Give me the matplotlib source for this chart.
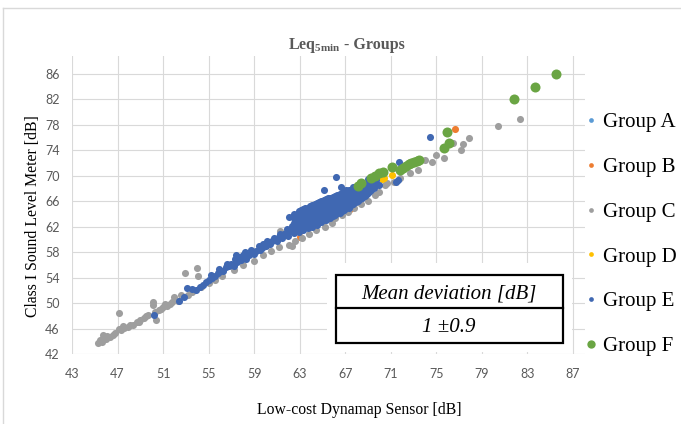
import matplotlib
matplotlib.use('Agg')
import matplotlib.pyplot as plt
from matplotlib.lines import Line2D
from matplotlib.patches import Rectangle

plt.rcParams['mathtext.fontset'] = 'custom'
plt.rcParams['mathtext.rm'] = 'Liberation Serif:bold'
plt.rcParams['mathtext.it'] = 'Liberation Serif:bold'
plt.rcParams['mathtext.bf'] = 'Liberation Serif:bold'

# ---------------- data (x = Low-cost sensor, y = Class I SLM) ----------------
group_a = [(63.2, 63.3), (63.6, 62.9), (64.2, 63.5), (62.8, 62.2)]

group_b = [(76.65, 77.3), (67.4, 64.8), (63.0, 60.4), (65.5, 63.6)]

group_c = [
    (45.3, 43.7), (45.5, 44.2), (45.6, 43.9), (45.75, 45.0), (46.0, 44.3),
    (46.1, 44.9), (46.3, 44.7), (46.6, 45.0), (46.8, 45.3), (47.1, 46.0),
    (47.1, 48.4), (47.3, 45.8), (47.5, 46.4), (47.6, 46.1), (47.9, 46.2),
    (48.1, 46.5), (48.4, 46.6), (48.7, 47.1), (48.9, 47.0), (49.0, 47.3),
    (49.3, 47.6), (49.5, 47.9), (49.7, 48.1), (50.1, 50.2), (50.1, 49.7),
    (50.3, 48.6), (50.4, 47.3), (50.6, 48.9), (50.8, 49.0), (51.0, 49.4),
    (51.2, 49.9), (51.3, 49.6), (51.6, 49.9), (51.8, 50.1), (52.0, 51.0),
    (52.3, 50.3), (52.6, 51.2), (52.9, 54.8), (53.2, 51.3), (53.5, 51.7),
    (53.95, 55.5), (54.1, 54.2), (54.3, 52.5), (55.0, 53.2), (55.6, 53.6),
    (56.2, 54.3), (57.2, 55.2), (58.0, 56.0), (59.0, 56.6), (59.8, 57.5),
    (60.5, 58.2), (61.2, 58.8), (61.3, 61.3), (62.1, 59.1), (62.3, 58.9),
    (62.6, 59.8), (63.2, 60.3), (63.8, 60.9), (64.4, 61.5), (64.8, 62.8),
    (65.2, 61.9), (65.8, 62.6), (66.1, 63.3), (66.7, 63.9), (67.2, 64.3),
    (67.8, 65.0), (68.4, 65.6), (69.0, 66.1), (69.6, 67.0), (70.0, 67.4),
    (70.5, 68.6), (70.7, 68.9), (71.3, 69.0), (71.8, 69.6), (72.7, 70.5),
    (73.4, 70.9), (74.0, 72.5), (74.6, 72.2), (75.0, 73.3), (75.7, 72.8),
    (76.5, 75.2), (77.15, 74.1), (77.3, 74.95), (77.9, 75.9), (80.4, 77.8),
    (82.3, 79.0),
]

group_d = [(71.07, 70.1), (70.2, 69.5), (70.4, 69.6)]

group_e = [
    # lower tail
    (50.2, 48.2), (52.4, 50.4), (52.8, 51.0), (53.1, 52.3), (53.5, 52.2),
    (53.9, 52.0), (54.2, 52.5), (54.5, 52.9), (54.8, 53.3), (55.0, 53.7),
    (55.2, 54.4), (55.3, 53.9), (55.6, 54.3), (55.8, 54.7), (55.9, 55.3),
    (56.0, 55.0), (56.3, 55.1), (56.5, 55.6), (56.6, 56.1), (56.8, 55.9),
    (57.0, 56.2), (57.2, 55.9), (57.3, 56.9), (57.4, 57.6), (57.5, 56.5),
    (57.7, 57.2), (57.8, 56.8), (58.0, 57.6), (58.1, 57.1), (58.2, 58.0),
    (58.3, 56.9), (58.5, 57.6), (58.7, 58.3), (58.8, 57.9), (59.0, 57.7),
    (59.2, 58.2), (59.4, 59.0), (59.5, 58.4), (59.8, 59.3), (59.7, 58.7),
    (60.0, 59.0), (60.1, 59.7), (60.2, 59.4), (60.4, 59.3), (60.6, 59.7),
    (60.7, 60.3), (60.8, 60.0), (61.0, 59.8), (61.2, 60.4), (61.3, 60.9),
    (61.4, 60.2), (61.6, 60.8), (61.8, 61.0), (61.9, 61.6), (62.0, 60.6),
    (62.2, 61.3), (62.3, 62.1), (62.1, 63.5),
    # main cloud
    (62.5, 61.0), (62.5, 61.8), (62.5, 62.6), (62.5, 63.4), (62.5, 64.0),
    (62.7, 61.4), (62.7, 62.2), (62.7, 63.0), (62.7, 63.8),
    (62.9, 61.2), (62.9, 62.0), (62.9, 62.8), (62.9, 63.6), (62.9, 64.5),
    (63.1, 61.6), (63.1, 62.4), (63.1, 63.2), (63.1, 64.0), (63.1, 64.6),
    (63.3, 61.5), (63.3, 62.3), (63.3, 63.1), (63.3, 63.9), (63.3, 64.8),
    (63.5, 61.9), (63.5, 62.7), (63.5, 63.5), (63.5, 64.3), (63.5, 65.0),
    (63.7, 61.8), (63.7, 62.6), (63.7, 63.4), (63.7, 64.2), (63.7, 65.0),
    (63.9, 62.1), (63.9, 62.9), (63.9, 63.8), (63.9, 64.6), (63.9, 65.3),
    (64.1, 62.0), (64.1, 62.9), (64.1, 63.7), (64.1, 64.5), (64.1, 65.4),
    (64.3, 62.4), (64.3, 63.2), (64.3, 64.1), (64.3, 64.9), (64.3, 65.6),
    (64.5, 62.3), (64.5, 63.2), (64.5, 64.0), (64.5, 64.8), (64.5, 65.7),
    (64.7, 62.7), (64.7, 63.5), (64.7, 64.4), (64.7, 65.2), (64.7, 65.9),
    (64.9, 62.7), (64.9, 63.5), (64.9, 64.3), (64.9, 65.1), (64.9, 66.0),
    (65.1, 63.0), (65.1, 63.8), (65.1, 64.7), (65.1, 65.5), (65.1, 66.2),
    (65.3, 63.0), (65.3, 63.8), (65.3, 64.6), (65.3, 65.4), (65.3, 66.3),
    (65.5, 63.4), (65.5, 64.2), (65.5, 65.0), (65.5, 65.8), (65.5, 66.5),
    (65.7, 63.4), (65.7, 64.2), (65.7, 65.0), (65.7, 65.8), (65.7, 66.5),
    (65.9, 63.7), (65.9, 64.5), (65.9, 65.3), (65.9, 66.1), (65.9, 66.7),
    (66.1, 63.8), (66.1, 64.6), (66.1, 65.4), (66.1, 66.2), (66.1, 66.8),
    (66.3, 64.1), (66.3, 64.9), (66.3, 65.7), (66.3, 66.4), (66.3, 67.0),
    (66.5, 64.1), (66.5, 65.0), (66.5, 65.8), (66.5, 66.5), (66.5, 67.1),
    (66.7, 64.5), (66.7, 65.3), (66.7, 66.1), (66.7, 66.8), (66.7, 67.3),
    (66.9, 64.6), (66.9, 65.4), (66.9, 66.2), (66.9, 66.9), (66.9, 67.5),
    (67.1, 65.0), (67.1, 65.8), (67.1, 66.5), (67.1, 67.2), (67.1, 67.7),
    (67.3, 65.0), (67.3, 65.8), (67.3, 66.6), (67.3, 67.3), (67.3, 67.8),
    (67.5, 65.4), (67.5, 66.2), (67.5, 66.9), (67.5, 67.6),
    (67.7, 65.5), (67.7, 66.3), (67.7, 67.0), (67.7, 67.7), (67.7, 68.2),
    (67.9, 65.9), (67.9, 66.6), (67.9, 67.3), (67.9, 67.9),
    (68.1, 66.0), (68.1, 66.8), (68.1, 67.5), (68.1, 68.1),
    (68.3, 66.4), (68.3, 67.1), (68.3, 67.8), (68.3, 68.3),
    (68.5, 66.5), (68.5, 67.3), (68.5, 68.0), (68.5, 68.6),
    (68.7, 66.9), (68.7, 67.6), (68.7, 68.3),
    (68.9, 67.1), (68.9, 67.8), (68.9, 68.5),
    (69.1, 67.5), (69.1, 68.2), (69.1, 68.8),
    (69.3, 67.7), (69.3, 68.4), (69.3, 69.0),
    (69.5, 68.1), (69.5, 68.8),
    (69.7, 68.6), (69.7, 69.3),
    # outliers
    (66.2, 69.8), (66.6, 68.2), (65.1, 67.7), (74.4, 76.1), (71.7, 72.1),
    (71.45, 69.1), (71.6, 69.3), (68.4, 69.1), (69.0, 69.5), (70.0, 68.6),
]

group_f = [
    (68.1, 68.4), (68.4, 68.8), (69.3, 69.6), (69.6, 69.9), (70.0, 70.4),
    (70.3, 70.6), (71.07, 71.45), (71.8, 70.9), (72.1, 71.3), (72.3, 71.5),
    (72.6, 71.9), (72.8, 72.0), (73.0, 72.2), (73.3, 72.4), (73.5, 72.5),
    (75.66, 74.3), (76.1, 75.2), (75.95, 76.9), (81.8, 82.1), (83.7, 83.9),
    (85.5, 86.0),
]

group_names = ['Group A', 'Group B', 'Group C', 'Group D', 'Group E', 'Group F']
group_colors = ['#5B9BD5', '#ED7D31', '#9E9E9E', '#FFC000', '#4068B2', '#6AA543']
x_ticks = [43, 47, 51, 55, 59, 63, 67, 71, 75, 79, 83, 87]
y_ticks = [42, 46, 50, 54, 58, 62, 66, 70, 74, 78, 82, 86]
title_main = r'$\mathrm{Leq_{5min}}$'
title_rest = ' - Groups'
x_label = 'Low-cost Dynamap Sensor [dB]'
y_label = 'Class I Sound Level Meter [dB]'
box_header = 'Mean deviation [dB]'
box_value = '1 \u00b10.9'

# ---------------- figure ----------------
W, H = 681, 424
fig = plt.figure(figsize=(W / 100, H / 100), dpi=100)


def fx(p):
    return p / W


def fy(p):
    return 1 - p / H


ax = fig.add_axes([fx(72), fy(354), fx(585) - fx(72), fy(56) - fy(354)])

groups = [group_a, group_b, group_c, group_d, group_e, group_f]
sizes = [26, 26, 26, 26, 26, 52]
for i, (pts, col, s) in enumerate(zip(groups, group_colors, sizes)):
    xs = [p[0] for p in pts]
    ys = [p[1] for p in pts]
    ax.scatter(xs, ys, s=s, color=col, linewidths=0, zorder=3 + i)

ax.set_xlim(43, 88.05)
ax.set_ylim(42, 88.83)
ax.set_xticks(x_ticks)
ax.set_yticks(y_ticks)
ax.tick_params(length=0, labelsize=9, labelcolor='#595959')
ax.tick_params(axis='x', pad=10)
ax.tick_params(axis='y', pad=9)
for lab in ax.get_xticklabels() + ax.get_yticklabels():
    lab.set_fontfamily('Lato')
ax.grid(True, color='#d9d9d9', lw=0.8)
ax.set_axisbelow(True)
for sp in ax.spines.values():
    sp.set_visible(False)

# title (two parts so that every part is bold)
renderer = fig.canvas.get_renderer()
t1 = fig.text(0, fy(49), title_main, ha='left', va='baseline',
              fontsize=11.5, color='#595959', family='Liberation Serif')
t2 = fig.text(0, fy(49), title_rest, ha='left', va='baseline',
              fontsize=11.5, color='#595959', fontweight='bold', family='Liberation Serif')
w1 = t1.get_window_extent(renderer).width
w2 = t2.get_window_extent(renderer).width
x0 = 346.5 - (w1 + w2) / 2
t1.set_x(fx(x0))
t2.set_x(fx(x0 + w1 - 1))

fig.text(fx(359), fy(414), x_label, ha='center', va='baseline',
         fontsize=11.3, family='Liberation Serif')
fig.text(fx(33), fy(216.5), y_label, ha='center', va='center', rotation=90,
         fontsize=11.3, family='Liberation Serif')

# legend
handles = []
for col, name in zip(group_colors, group_names):
    ms = 6 if name == 'Group F' else 3.4
    handles.append(Line2D([], [], marker='o', ls='none', color=col,
                          markersize=ms, markeredgewidth=0))
fig.legend(handles, group_names, loc='center left',
           bbox_to_anchor=(fx(585), fy(234.5)), frameon=False,
           prop={'family': 'Liberation Serif', 'size': 15},
           handlelength=0.6, handletextpad=0.25, labelspacing=1.21,
           borderpad=0, borderaxespad=0)

# text box with mean deviation
fig.add_artist(Rectangle((fx(327), fy(352)), fx(572) - fx(327), fy(263) - fy(352),
                         transform=fig.transFigure, fc='white', ec='none', zorder=2))
fig.add_artist(Rectangle((fx(336), fy(343.3)), fx(562.5) - fx(336), fy(275) - fy(343.3),
                         transform=fig.transFigure, fill=False, ec='black', lw=1.6, zorder=3))
fig.add_artist(Line2D([fx(336), fx(562.5)], [fy(308.3), fy(308.3)],
                      transform=fig.transFigure, color='black', lw=1.6, zorder=3))
fig.text(fx(449), fy(298.5), box_header, ha='center', va='baseline', style='italic',
         fontsize=15, family='Liberation Serif', zorder=4)
fig.text(fx(449), fy(332.5), box_value, ha='center', va='baseline', style='italic',
         fontsize=15, family='Liberation Serif', zorder=4)

# chart frame
fig.add_artist(Line2D([fx(3), fx(3)], [0, fy(8)], transform=fig.transFigure,
                      color='#d9d9d9', lw=1))
fig.add_artist(Line2D([fx(3), 1], [fy(8), fy(8)], transform=fig.transFigure,
                      color='#d9d9d9', lw=1))

fig.savefig('out.png', dpi=100)
